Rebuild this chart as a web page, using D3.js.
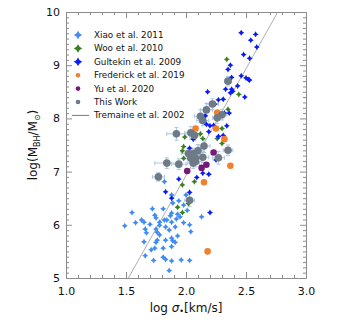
<!DOCTYPE html>
<html>
<head>
<meta charset="utf-8">
<script src="https://cdn.jsdelivr.net/npm/d3@7"></script>
<style>
  body { margin: 0; background: #fff; }
  text { font-family: 'DejaVu Sans', sans-serif; }
</style>
</head>
<body>
<div id="chart-div"></div>
<script>
const WIDTH = 338;
const HEIGHT = 330;
const MARGIN = { top: 12, right: 32, bottom: 52, left: 66 };

// Xiao et al. 2011
const xiaoSigma = [1.55, 1.49, 1.58, 1.63, 1.65, 1.70, 1.72, 1.74, 1.75, 1.81, 1.82, 1.84, 1.78, 1.78, 1.75,
  1.76, 1.66, 1.67, 1.88, 1.83, 1.86, 1.78, 1.76, 1.75, 1.83, 1.81, 1.89, 1.74, 1.71, 1.66, 1.81, 1.83,
  1.73, 1.65, 1.86, 1.88, 1.94, 1.98, 2.01, 2.13, 2.03, 2.04, 1.98, 1.91, 1.88, 1.91, 1.88, 1.96, 2.03,
  1.88, 1.82, 1.89, 1.93, 1.92, 1.87, 1.95, 1.88, 2.00, 1.93];
const xiaoMass = [6.23, 5.98, 6.04, 6.09, 6.05, 6.01, 6.30, 6.18, 6.13, 6.30, 6.09, 6.09, 6.05, 5.99, 5.92,
  5.86, 5.92, 5.85, 6.22, 5.96, 5.90, 5.81, 5.71, 5.67, 5.71, 5.56, 5.70, 5.56, 5.53, 5.42, 5.39, 5.35,
  5.33, 5.68, 5.14, 6.56, 6.45, 6.37, 6.27, 6.15, 6.00, 5.87, 6.04, 5.96, 5.75, 5.67, 5.59, 5.34, 5.33,
  5.32, 6.81, 6.41, 6.20, 6.11, 6.17, 6.15, 6.05, 6.56, 5.79];

// Woo et al. 2010
const wooSigma = [2.34, 2.44, 2.35, 2.30, 2.14, 2.12, 1.99, 2.26, 2.30, 1.98, 1.97, 1.98, 1.97, 2.07, 2.02, 1.93, 1.97];
const wooMass = [9.11, 8.45, 8.17, 7.81, 7.62, 7.71, 7.65, 7.62, 7.53, 7.47, 7.39, 7.25, 6.75, 6.81, 6.40, 6.33, 6.23];

// Gultekin et al. 2009
const gultekinSigma = [2.46, 2.58, 2.54, 2.59, 2.48, 2.53, 2.37, 2.35, 2.46, 2.38, 2.50, 2.52, 2.53, 2.43, 2.33,
  2.38, 2.39, 2.37, 2.49, 2.18, 2.27, 2.31, 2.24, 2.32, 2.36, 2.16, 2.17, 2.20, 2.23, 2.34, 2.19, 2.06,
  2.06, 2.27, 2.31, 2.03, 2.05, 2.25, 2.14, 2.19, 2.09, 1.94, 2.03, 1.83, 1.88, 2.20];
const gultekinMass = [9.61, 9.58, 9.47, 9.34, 9.20, 9.13, 9.00, 8.92, 8.80, 8.77, 8.76, 8.73, 8.72, 8.61, 8.55,
  8.55, 8.51, 8.48, 8.40, 8.50, 8.35, 8.36, 8.27, 8.10, 8.10, 8.05, 7.89, 7.86, 7.87, 7.86, 7.75, 7.67,
  7.61, 7.66, 7.68, 7.44, 7.33, 7.22, 6.97, 6.95, 6.89, 6.86, 6.61, 6.62, 6.50, 6.23];

// Frederick et al. 2019
const frederickSigma = [2.26, 2.08, 2.25, 2.32, 2.37, 2.15, 2.18];
const frederickMass = [8.11, 7.81, 7.81, 7.61, 7.11, 6.80, 5.50];

// Yu et al. 2020
const yuSigma = [2.23, 2.17, 2.13, 2.01];
const yuMass = [7.36, 7.13, 7.07, 7.01];

// This Work
const thisSigma = [2.35, 2.22, 2.17, 2.30, 2.26, 2.12, 2.14, 1.92, 2.04, 2.07, 2.15, 2.35, 2.02, 2.06, 2.10,
  2.04, 2.08, 2.14, 2.27, 2.08, 1.84, 1.94, 1.77, 2.03, 2.06];
const thisMass = [8.70, 8.27, 8.16, 8.07, 8.01, 8.04, 7.96, 7.71, 7.73, 7.68, 7.48, 7.40, 7.34, 7.34, 7.39,
  7.25, 7.25, 7.27, 7.26, 7.19, 7.16, 7.14, 6.90, 6.46, 7.16];
const thisSigmaErr = [0.03, 0.05, 0.05, 0.04, 0.04, 0.05, 0.05, 0.08, 0.05, 0.04, 0.05, 0.04, 0.06, 0.05, 0.05,
  0.05, 0.05, 0.05, 0.05, 0.05, 0.10, 0.06, 0.05, 0.04, 0.05];
const thisMassErr = [0.09, 0.10, 0.12, 0.10, 0.10, 0.12, 0.10, 0.12, 0.12, 0.10, 0.12, 0.10, 0.10, 0.10, 0.12,
  0.10, 0.10, 0.10, 0.12, 0.10, 0.10, 0.10, 0.08, 0.12, 0.10];

// Tremaine et al. 2002 relation, end points inside the frame
const tremaineSigma = [1.52, 2.765];
const tremaineMass = [5.0, 10.0];

const xTicks = [1.0, 1.5, 2.0, 2.5, 3.0];
const yTicks = [5, 6, 7, 8, 9, 10];

const legendNames = ['Xiao et al. 2011', 'Woo et al. 2010', 'Gultekin et al. 2009', 'Frederick et al. 2019',
  'Yu et al. 2020', 'This Work', 'Tremaine et al. 2002'];

const COLORS = {
  xiao: '#3f8cf5',
  woo: '#3b7f23',
  gultekin: '#0a1cf5',
  frederick: '#f0802e',
  yu: '#761a78',
  thisWork: '#6e7a86',
  err: '#a9c6e3',
  axis: '#8c8c8c'
};

// 4-pointed star like the IDL psym
const star4 = {
  draw(context, size) {
    const r = Math.sqrt(size);
    const k = r * 0.38;
    context.moveTo(0, -r);
    context.lineTo(k, -k);
    context.lineTo(r, 0);
    context.lineTo(k, k);
    context.lineTo(0, r);
    context.lineTo(-k, k);
    context.lineTo(-r, 0);
    context.lineTo(-k, -k);
    context.closePath();
  }
};

class MsigmaPlot {

  constructor() {

    this.svg = d3.select('#chart-div')
      .append('svg')
      .attr('width', WIDTH)
      .attr('height', HEIGHT);

    this.xScale = d3.scaleLinear()
      .domain([1, 3])
      .range([MARGIN.left, WIDTH - MARGIN.right]);

    this.yScale = d3.scaleLinear()
      .domain([5, 10])
      .range([HEIGHT - MARGIN.bottom, MARGIN.top]);

    this.drawAxes();
    this.drawRelation();
    this.drawErrorBars();
    this.drawStars(xiaoSigma, xiaoMass, COLORS.xiao);
    this.drawStars(wooSigma, wooMass, COLORS.woo);
    this.drawStars(gultekinSigma, gultekinMass, COLORS.gultekin);
    this.drawCircles(frederickSigma, frederickMass, COLORS.frederick, 3.3);
    this.drawCircles(yuSigma, yuMass, COLORS.yu, 3.3);
    this.drawCircles(thisSigma, thisMass, COLORS.thisWork, 3.8);
    this.drawLegend();
    this.drawLabels();

  }

  drawAxes() {

    const x0 = MARGIN.left;
    const x1 = WIDTH - MARGIN.right;
    const y0 = HEIGHT - MARGIN.bottom;
    const y1 = MARGIN.top;

    const xMinor = d3.range(11, 30).map(d => d / 10).filter(d => !xTicks.includes(d));
    const yMinor = d3.range(51, 100).map(d => d / 10).filter(d => !yTicks.includes(d));

    const axes = [
      { axis: d3.axisBottom(this.xScale), t: `translate(0,${y0})`, major: xTicks, minor: xMinor, labels: true },
      { axis: d3.axisTop(this.xScale), t: `translate(0,${y1})`, major: xTicks, minor: xMinor, labels: false },
      { axis: d3.axisLeft(this.yScale), t: `translate(${x0},0)`, major: yTicks, minor: yMinor, labels: true },
      { axis: d3.axisRight(this.yScale), t: `translate(${x1},0)`, major: yTicks, minor: yMinor, labels: false }
    ];

    axes.forEach(a => {
      const g = this.svg.append('g').attr('transform', a.t);

      g.append('g')
        .call(a.axis.tickValues(a.minor).tickSize(-3).tickSizeOuter(0).tickFormat(''));

      g.append('g')
        .call(a.axis.tickValues(a.major).tickSize(-6).tickSizeOuter(0).tickPadding(a === axes[2] ? 6 : 9)
          .tickFormat(a.labels ? (a === axes[0] ? d3.format('.1f') : d3.format('d')) : ''));

      g.selectAll('path, line').attr('stroke', COLORS.axis).attr('stroke-width', 1);
      g.selectAll('text').attr('font-size', 11).attr('fill', '#111')
        .attr('font-family', 'DejaVu Sans, sans-serif');
    });

  }

  drawRelation() {

    const line = d3.line()
      .x(d => this.xScale(d[0]))
      .y(d => this.yScale(d[1]));

    this.svg.append('path')
      .datum(d3.zip(tremaineSigma, tremaineMass))
      .attr('d', line)
      .attr('fill', 'none')
      .attr('stroke', '#9a9a9a')
      .attr('stroke-width', 0.8);

  }

  drawErrorBars() {

    const data = d3.zip(thisSigma, thisMass, thisSigmaErr, thisMassErr);
    const g = this.svg.append('g')
      .attr('stroke', COLORS.err)
      .attr('stroke-width', 1);
    const cap = 2;

    data.forEach(d => {
      const cx = this.xScale(d[0]);
      const cy = this.yScale(d[1]);
      const xa = this.xScale(d[0] - d[2]);
      const xb = this.xScale(d[0] + d[2]);
      const ya = this.yScale(d[1] - d[3]);
      const yb = this.yScale(d[1] + d[3]);
      g.append('line').attr('x1', xa).attr('x2', xb).attr('y1', cy).attr('y2', cy);
      g.append('line').attr('x1', cx).attr('x2', cx).attr('y1', ya).attr('y2', yb);
      g.append('line').attr('x1', xa).attr('x2', xa).attr('y1', cy - cap).attr('y2', cy + cap);
      g.append('line').attr('x1', xb).attr('x2', xb).attr('y1', cy - cap).attr('y2', cy + cap);
      g.append('line').attr('x1', cx - cap).attr('x2', cx + cap).attr('y1', ya).attr('y2', ya);
      g.append('line').attr('x1', cx - cap).attr('x2', cx + cap).attr('y1', yb).attr('y2', yb);
    });

  }

  drawStars(sigma, mass, color) {

    this.svg.append('g')
      .selectAll('path')
      .data(d3.zip(sigma, mass))
      .join('path')
      .attr('d', d3.symbol().type(star4).size(9))
      .attr('transform', d => `translate(${this.xScale(d[0])},${this.yScale(d[1])})`)
      .attr('fill', color);

  }

  drawCircles(sigma, mass, color, r) {

    this.svg.append('g')
      .selectAll('circle')
      .data(d3.zip(sigma, mass))
      .join('circle')
      .attr('cx', d => this.xScale(d[0]))
      .attr('cy', d => this.yScale(d[1]))
      .attr('r', r)
      .attr('fill', color);

  }

  drawLegend() {

    const markers = [
      { type: 'star', color: COLORS.xiao },
      { type: 'star', color: COLORS.woo },
      { type: 'star', color: COLORS.gultekin },
      { type: 'circle', color: COLORS.frederick },
      { type: 'circle', color: COLORS.yu },
      { type: 'circle', color: COLORS.thisWork },
      { type: 'line', color: '#666' }
    ];

    const lx = 78;
    const ly = 35;
    const dy = 13.4;

    const g = this.svg.append('g').attr('id', 'legend');

    legendNames.forEach((name, i) => {
      const y = ly + i * dy;
      const m = markers[i];
      if (m.type === 'star') {
        g.append('path')
          .attr('d', d3.symbol().type(star4).size(18))
          .attr('transform', `translate(${lx},${y})`)
          .attr('fill', m.color);
      } else if (m.type === 'circle') {
        g.append('circle')
          .attr('cx', lx).attr('cy', y).attr('r', 2.3)
          .attr('fill', m.color);
      } else {
        g.append('line')
          .attr('x1', lx - 6).attr('x2', lx + 11)
          .attr('y1', y).attr('y2', y)
          .attr('stroke', m.color).attr('stroke-width', 0.9);
      }
      g.append('text')
        .attr('x', 94)
        .attr('y', y + 3)
        .attr('font-size', 8.8)
        .attr('fill', '#111')
        .text(name);
    });

  }

  drawLabels() {

    const xl = this.svg.append('text')
      .attr('x', 186)
      .attr('y', 312)
      .attr('text-anchor', 'middle')
      .attr('font-size', 12)
      .attr('fill', '#111');
    xl.append('tspan').text('log ');
    xl.append('tspan').attr('font-style', 'italic').text('σ');
    xl.append('tspan').attr('font-size', 8).attr('dy', 2).text('•');
    xl.append('tspan').attr('dy', -2).text('[km/s]');

    const yl = this.svg.append('text')
      .attr('transform', `translate(37,${(MARGIN.top + HEIGHT - MARGIN.bottom) / 2}) rotate(-90)`)
      .attr('text-anchor', 'middle')
      .attr('font-size', 12)
      .attr('fill', '#111');
    yl.append('tspan').text('log(M');
    yl.append('tspan').attr('font-size', 8).attr('dy', 3).text('BH');
    yl.append('tspan').attr('dy', -3).text('/M');
    yl.append('tspan').attr('font-size', 8).attr('dy', 3).text('⊙');
    yl.append('tspan').attr('dy', -3).text(')');

  }

}

new MsigmaPlot();
</script>
</body>
</html>
